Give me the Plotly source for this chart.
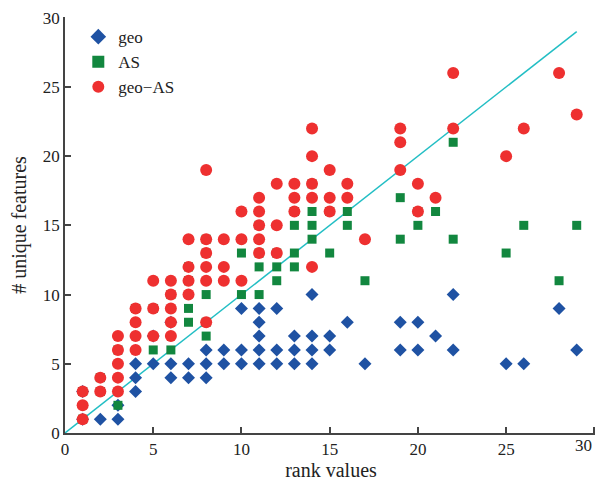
import plotly.graph_objects as go

geo_x = [1, 1, 2, 3, 3, 4, 4, 4, 5, 5, 6, 6, 6, 7, 7, 8, 8, 8, 9, 9,
         10, 10, 10, 11, 11, 11, 11, 11, 12, 12, 12, 13, 13, 13, 14, 14, 14, 14,
         15, 15, 16, 17, 19, 19, 20, 20, 21, 22, 22, 25, 26, 28, 29]
geo_y = [1, 3, 1, 1, 2, 3, 4, 5, 5, 7, 4, 5, 8, 4, 5, 4, 5, 6, 5, 6,
         5, 6, 9, 5, 6, 7, 8, 9, 5, 6, 9, 5, 6, 7, 5, 6, 7, 10,
         6, 7, 8, 5, 6, 8, 6, 8, 7, 6, 10, 5, 5, 9, 6]

as_x = [1, 1, 2, 2, 3, 3, 4, 5, 5, 6, 6, 7, 7, 7, 7, 8, 8, 8, 8, 8,
        10, 10, 11, 11, 11, 11, 12, 12, 12, 13, 13, 13, 13, 14, 14, 14, 14,
        15, 15, 16, 16, 17, 19, 19, 20, 20, 21, 22, 22, 25, 26, 28, 29]
as_y = [1, 3, 3, 4, 2, 6, 9, 6, 9, 6, 10, 8, 9, 11, 12, 7, 8, 10, 13, 14,
        10, 13, 10, 12, 13, 15, 11, 12, 13, 12, 13, 15, 16, 14, 15, 16, 18,
        13, 16, 15, 16, 11, 14, 17, 15, 16, 16, 14, 21, 13, 15, 11, 15]

ga_x = [1, 1, 1, 2, 2, 3, 3, 3, 3, 3, 4, 4, 4, 4, 5, 5, 5, 6, 6, 6, 6, 6,
        7, 7, 7, 7, 8, 8, 8, 8, 8, 8, 9, 9, 9, 10, 10, 10,
        11, 11, 11, 11, 11, 12, 12, 12, 13, 13, 13, 14, 14, 14, 14, 14,
        15, 15, 15, 16, 16, 17, 19, 19, 19, 20, 20, 21, 22, 22, 25, 26, 28, 29]
ga_y = [1, 2, 3, 3, 4, 3, 4, 5, 6, 7, 6, 7, 8, 9, 7, 9, 11, 7, 8, 9, 10, 11,
        10, 11, 12, 14, 8, 11, 12, 13, 14, 19, 11, 12, 14, 11, 14, 16,
        13, 14, 15, 16, 17, 13, 15, 18, 16, 17, 18, 12, 17, 18, 20, 22,
        16, 17, 19, 17, 18, 14, 19, 21, 22, 16, 18, 17, 22, 26, 20, 22, 26, 23]

x_tickvals = [0, 5, 10, 15, 20, 25, 30]
x_ticktext = ["0", "5", "10", "15", "20", "25", ""]
x_last_label = "30"

line_x = [0, 29]
line_y = [0, 29]

FONT = "Liberation Serif, Times New Roman, serif"

fig = go.Figure()
fig.add_trace(go.Scatter(x=line_x, y=line_y, mode="lines",
                         line=dict(color="#22BEC4", width=1.5),
                         showlegend=False, hoverinfo="skip"))
fig.add_trace(go.Scatter(x=geo_x, y=geo_y, mode="markers", name="geo",
                         marker=dict(symbol="diamond", size=10, color="#1F52A3")))
fig.add_trace(go.Scatter(x=as_x, y=as_y, mode="markers", name="AS",
                         marker=dict(symbol="square", size=9, color="#12873F")))
fig.add_trace(go.Scatter(x=ga_x, y=ga_y, mode="markers", name="geo\u2212AS",
                         marker=dict(symbol="circle", size=12, color="#EE3030")))

axis_common = dict(
    showgrid=False, zeroline=False, showline=True, linecolor="#444", linewidth=1.5,
    ticks="inside", ticklen=6, tickcolor="#444", tickwidth=1.5,
    tickfont=dict(family=FONT, size=17, color="#222"),
    automargin=False, ticklabeloverflow="allow",
)
fig.update_layout(
    width=595, height=481,
    margin=dict(l=57, r=6, t=9, b=56),
    paper_bgcolor="white", plot_bgcolor="white",
    font=dict(family=FONT, size=17, color="#222"),
    xaxis=dict(range=[0, 30.15], tickmode="array", tickvals=x_tickvals, ticktext=x_ticktext,
               title=dict(text="rank values", standoff=2), **axis_common),
    yaxis=dict(range=[0, 30.05], dtick=5, tick0=0,
               title=dict(text="# unique features", standoff=16), **axis_common),
    legend=dict(x=0.025, y=0.995, xanchor="left", yanchor="top", itemsizing="constant",
                bgcolor="rgba(0,0,0,0)", font=dict(size=17, family=FONT),
                itemwidth=30, tracegroupgap=0),
    annotations=[dict(x=x_tickvals[-1], xref="x", y=0, yref="paper", text=x_last_label,
                      showarrow=False, xanchor="right", yanchor="top", yshift=-1,
                      font=dict(family=FONT, size=17, color="#222"))],
)
fig.write_html("out.html")
